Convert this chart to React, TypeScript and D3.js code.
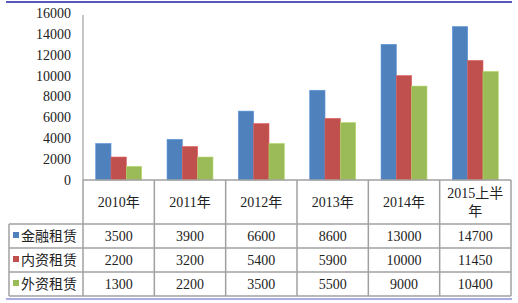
import React from "react";
import * as d3 from "d3";

const categories = ["2010年", "2011年", "2012年", "2013年", "2014年", "2015上半年"];
const categoryLines = [["2010年"], ["2011年"], ["2012年"], ["2013年"], ["2014年"], ["2015上半", "年"]];
const seriesNames = ["金融租赁", "内资租赁", "外资租赁"];
const finance = [3500, 3900, 6600, 8600, 13000, 14700];
const domestic = [2200, 3200, 5400, 5900, 10000, 11450];
const foreign = [1300, 2200, 3500, 5500, 9000, 10400];
const yTicks = [0, 2000, 4000, 6000, 8000, 10000, 12000, 14000, 16000];
const colors = ["#4F81BD", "#C0504D", "#9BBB59"];

const W = 518;
const H = 303;
const plotLeft = 83;
const plotRight = 511;
const plotTop = 13;
const plotBottom = 180;
const headerBottom = 224;
const rowBottoms = [248, 272, 296];
const legendLeft = 9;

export default function App() {
  const series = [finance, domestic, foreign];
  const x0 = d3.scaleBand<string>().domain(categories).range([plotLeft, plotRight]).paddingInner(0).paddingOuter(0);
  const x1 = d3
    .scaleBand<string>()
    .domain(seriesNames)
    .range([0, x0.bandwidth()])
    .paddingInner(0)
    .paddingOuter(0.83);
  const y = d3.scaleLinear().domain([0, 16000]).range([plotBottom, plotTop]);
  const numFont = "'Liberation Serif', 'DejaVu Serif', serif";
  const cjkFont = "'Liberation Serif', 'Noto Sans CJK SC', serif";
  const lineColor = "#a0a0a0";
  const rowTops = [headerBottom, rowBottoms[0], rowBottoms[1]];

  return (
    <svg
      width={W}
      height={H}
      style={{ position: "absolute", left: 0, top: 0, background: "#fff" }}
    >
      <rect x={0} y={0} width={W} height={H} fill="#fff" />
      {/* top and bottom decorative lines */}
      <line x1={6} x2={512} y1={2} y2={2} stroke="#2020a8" strokeWidth={1.5} />
      <line x1={6} x2={512} y1={299} y2={299} stroke="#5a5ac8" strokeWidth={1} />

      {/* y tick labels */}
      {yTicks.map((t) => (
        <text
          key={t}
          x={71}
          y={y(t)}
          dy="0.35em"
          textAnchor="end"
          fontFamily={numFont}
          fontSize={14}
          fill="#222"
        >
          {t}
        </text>
      ))}

      {/* bars */}
      {categories.map((c, i) => (
        <g key={c} transform={`translate(${x0(c)},0)`}>
          {series.map((s, k) => (
            <rect
              key={k}
              x={x1(seriesNames[k])}
              y={y(s[i])}
              width={x1.bandwidth()}
              height={y(0) - y(s[i])}
              fill={colors[k]}
              stroke={d3.color(colors[k])!.brighter(0.4).toString()}
              strokeWidth={0.6}
            />
          ))}
        </g>
      ))}

      {/* y axis line */}
      <line x1={plotLeft} x2={plotLeft} y1={plotTop + 2} y2={plotBottom} stroke={lineColor} strokeWidth={1.2} />

      {/* table grid */}
      <line x1={plotLeft} x2={plotRight} y1={plotBottom} y2={plotBottom} stroke={lineColor} strokeWidth={1.5} />
      <line x1={legendLeft} x2={plotRight} y1={headerBottom} y2={headerBottom} stroke={lineColor} strokeWidth={1.5} />
      {rowBottoms.map((rb) => (
        <line key={rb} x1={legendLeft} x2={plotRight} y1={rb} y2={rb} stroke={lineColor} strokeWidth={1.5} />
      ))}
      <line x1={legendLeft} x2={legendLeft} y1={headerBottom} y2={rowBottoms[2]} stroke={lineColor} strokeWidth={1.5} />
      {categories.map((c) => (
        <line
          key={c}
          x1={x0(c)}
          x2={x0(c)}
          y1={plotBottom}
          y2={rowBottoms[2]}
          stroke={lineColor}
          strokeWidth={1.5}
        />
      ))}
      <line x1={plotRight} x2={plotRight} y1={plotBottom} y2={rowBottoms[2]} stroke={lineColor} strokeWidth={1.5} />

      {/* header labels */}
      {categories.map((c, i) => {
        const lines = categoryLines[i];
        const cx = x0(c)! + x0.bandwidth() / 2;
        const cy = (plotBottom + headerBottom) / 2;
        const lh = 18;
        return (
          <text key={c} textAnchor="middle" fontFamily={cjkFont} fontSize={14} fill="#222">
            {lines.map((l, j) => (
              <tspan key={j} x={cx} y={cy + (j - (lines.length - 1) / 2) * lh} dy="0.35em">
                {l}
              </tspan>
            ))}
          </text>
        );
      })}

      {/* legend column and values */}
      {seriesNames.map((name, k) => {
        const cy = (rowTops[k] + rowBottoms[k]) / 2;
        return (
          <g key={name}>
            <rect x={13} y={cy - 4} width={6} height={6} fill={colors[k]} />
            <text x={21} y={cy} dy="0.35em" fontFamily="'Noto Sans CJK SC', sans-serif" fontSize={14} fill="#222">
              {name}
            </text>
            {categories.map((c, i) => (
              <text
                key={c}
                x={x0(c)! + x0.bandwidth() / 2}
                y={cy}
                dy="0.35em"
                textAnchor="middle"
                fontFamily={numFont}
                fontSize={14}
                fill="#222"
              >
                {series[k][i]}
              </text>
            ))}
          </g>
        );
      })}
    </svg>
  );
}
